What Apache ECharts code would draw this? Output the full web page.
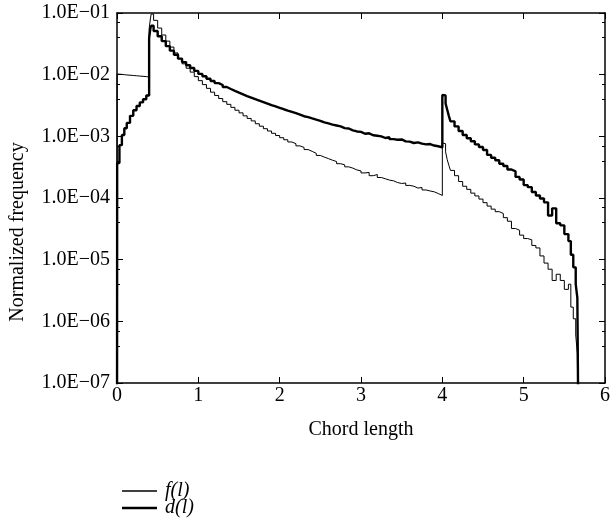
<!DOCTYPE html>
<html>
<head>
<meta charset="utf-8">
<script src="https://cdn.jsdelivr.net/npm/echarts@6/dist/echarts.min.js"></script>
<style>
  html, body { margin: 0; padding: 0; background: #fff; }
  #chart { width: 613px; height: 520px; }
</style>
</head>
<body>
<div id="chart"></div>
<script>
// bin left edges (chord length)
const chordLength = [
  0, 0.002, 0.03, 0.06, 0.09, 0.12, 0.16, 0.2, 0.24, 0.28, 0.32, 0.36, 0.395, 0.41, 0.42, 0.45,
  0.5, 0.55, 0.6, 0.65, 0.7, 0.75, 0.8, 0.85, 0.9, 0.95,
  1.0, 1.05, 1.1, 1.15, 1.2, 1.25, 1.3, 1.35, 1.4, 1.45, 1.5, 1.55, 1.6, 1.65, 1.7, 1.75, 1.8, 1.85, 1.9, 1.95,
  2.0, 2.05, 2.1, 2.15, 2.2, 2.25, 2.3, 2.35, 2.4, 2.45, 2.5, 2.55, 2.6, 2.65, 2.7, 2.75, 2.8, 2.85, 2.9, 2.95,
  3.0, 3.05, 3.1, 3.15, 3.2, 3.25, 3.3, 3.35, 3.4, 3.45, 3.5, 3.55, 3.6, 3.65, 3.7, 3.75, 3.8, 3.85, 3.9, 3.95,
  4.0, 4.02, 4.04, 4.06, 4.08,
  4.1, 4.15, 4.2, 4.25, 4.3, 4.35, 4.4, 4.45, 4.5, 4.55, 4.6, 4.65, 4.7, 4.75, 4.8, 4.85, 4.9, 4.95,
  5.0, 5.05, 5.1, 5.15, 5.2, 5.25, 5.3, 5.35, 5.4, 5.45, 5.5,
  5.55, 5.58, 5.61, 5.64, 5.66, 5.68
]

// f(l)
const fValues = [
  1e-9, 1.02e-2, 1.01e-2, 1.0e-2, 9.9e-3, 9.8e-3, 9.7e-3, 9.6e-3, 9.5e-3, 9.4e-3, 9.3e-3, 9.2e-3, 5.5e-2, 8.0e-2, 9.6e-2, 7.6e-2,
  5.7e-2, 4.4e-2, 3.5e-2, 2.8e-2, 2.25e-2, 1.82e-2, 1.5e-2, 1.27e-2, 1.1e-2, 9.3e-3,
  8.0e-3, 6.9e-3, 6.0e-3, 5.2e-3, 4.6e-3, 4.1e-3, 3.65e-3, 3.3e-3, 2.95e-3, 2.65e-3, 2.4e-3, 2.15e-3, 1.95e-3, 1.78e-3, 1.6e-3, 1.46e-3, 1.33e-3, 1.22e-3, 1.12e-3, 1.03e-3,
  9.5e-4, 8.8e-4, 8.1e-4, 7.6e-4, 7.0e-4, 6.6e-4, 6.1e-4, 5.7e-4, 5.3e-4, 4.9e-4, 4.6e-4, 4.35e-4, 4.1e-4, 3.9e-4, 3.6e-4, 3.45e-4, 3.2e-4, 3.05e-4, 2.85e-4, 2.75e-4,
  2.55e-4, 2.6e-4, 2.3e-4, 2.4e-4, 2.15e-4, 2.05e-4, 1.95e-4, 1.9e-4, 1.78e-4, 1.72e-4, 1.75e-4, 1.6e-4, 1.55e-4, 1.45e-4, 1.48e-4, 1.35e-4, 1.3e-4, 1.26e-4, 1.18e-4, 1.1e-4,
  7.8e-4, 7.6e-4, 5.6e-4, 4.2e-4, 3.4e-4,
  2.8e-4, 2.3e-4, 1.85e-4, 1.55e-4, 1.38e-4, 1.2e-4, 1.08e-4, 9.6e-5, 8.4e-5, 7.4e-5, 6.6e-5, 6.0e-5, 5.6e-5, 4.8e-5, 4.2e-5, 3.2e-5, 3.0e-5, 2.5e-5,
  2.2e-5, 2.1e-5, 1.7e-5, 1.55e-5, 1.15e-5, 8.8e-6, 7.0e-6, 4.6e-6, 5.8e-6, 4.6e-6, 3.3e-6,
  4.0e-6, 1.7e-6, 1.1e-6, 6.0e-7, 3.0e-7, 1e-9
]

// d(l)
const dValues = [
  1e-9, 3.7e-4, 7.2e-4, 1.05e-3, 1.35e-3, 1.65e-3, 2.15e-3, 2.65e-3, 3.1e-3, 3.55e-3, 4.0e-3, 4.6e-3, 3.9e-2, 5.6e-2, 6.2e-2, 5.1e-2,
  4.2e-2, 3.5e-2, 2.9e-2, 2.45e-2, 2.1e-2, 1.82e-2, 1.6e-2, 1.42e-2, 1.28e-2, 1.15e-2,
  1.03e-2, 9.4e-3, 8.6e-3, 7.9e-3, 7.3e-3, 6.8e-3, 6.3e-3, 5.85e-3, 5.45e-3, 5.1e-3, 4.8e-3, 4.5e-3, 4.25e-3, 4.0e-3, 3.8e-3, 3.6e-3, 3.4e-3, 3.2e-3, 3.05e-3, 2.9e-3,
  2.75e-3, 2.62e-3, 2.5e-3, 2.38e-3, 2.25e-3, 2.12e-3, 2.05e-3, 1.95e-3, 1.86e-3, 1.78e-3, 1.68e-3, 1.62e-3, 1.55e-3, 1.5e-3, 1.45e-3, 1.36e-3, 1.34e-3, 1.25e-3, 1.2e-3, 1.18e-3,
  1.1e-3, 1.12e-3, 1.04e-3, 1.02e-3, 1.0e-3, 9.4e-4, 9.7e-4, 9.0e-4, 8.8e-4, 8.9e-4, 8.3e-4, 8.2e-4, 7.8e-4, 8.0e-4, 7.6e-4, 7.4e-4, 7.5e-4, 7.1e-4, 6.9e-4, 6.6e-4,
  4.7e-3, 4.6e-3, 3.4e-3, 2.7e-3, 2.15e-3,
  1.75e-3, 1.45e-3, 1.22e-3, 1.05e-3, 9.3e-4, 8.3e-4, 7.4e-4, 6.7e-4, 6.0e-4, 5.0e-4, 4.5e-4, 4.1e-4, 3.6e-4, 3.3e-4, 2.9e-4, 2.7e-4, 2.2e-4, 2.0e-4,
  1.62e-4, 1.5e-4, 1.25e-4, 1.1e-4, 9.8e-5, 8.5e-5, 5.2e-5, 6.8e-5, 3.9e-5, 3.6e-5, 2.6e-5,
  2.0e-5, 1.2e-5, 7.5e-6, 4.0e-6, 2.4e-6, 1e-9
]

const xTicks = [0, 1, 2, 3, 4, 5, 6]
const seriesNames = ['f(l)', 'd(l)']

const chart = echarts.init(document.getElementById('chart'))
const serif = '"Liberation Serif", "DejaVu Serif", serif'

const pairs = (ys) => chordLength.map((x, i) => [x, ys[i]])

// label like 1.0E−03
const sciLabel = (v) => {
  const e = Math.round(Math.log10(v))
  return '1.0E\u2212' + String(-e).padStart(2, '0')
}

const axisLine = { show: true, onZero: false, lineStyle: { color: '#000', width: 1.5 } }
const tick = { show: true, inside: true, length: 6, lineStyle: { color: '#000', width: 1 } }

const yCommon = {
  type: 'log',
  logBase: 10,
  min: 1e-7,
  max: 1e-1,
  interval: 1,
  axisLine: axisLine,
  axisTick: tick,
  minorTick: { show: true, splitNumber: 3, length: 3, lineStyle: { color: '#000', width: 1 } },
  splitLine: { show: false },
  minorSplitLine: { show: false },
}

// one legend per entry so they stack
const legendEntry = (name, icon, top) => ({
  left: 117,
  top: top,
  itemWidth: 35,
  itemHeight: 14,
  symbolKeepAspect: true,
  itemStyle: { borderWidth: 0 },
  data: [{ name: name, icon: icon }],
  textStyle: { fontFamily: serif, fontSize: 20, fontStyle: 'italic', color: '#000', padding: [0, 0, 0, 3] },
})

const option = {
  animation: false,
  backgroundColor: '#fff',
  grid: { left: 117, top: 13, width: 491, height: 370 },
  legend: [
    legendEntry(seriesNames[0], 'path://M0,0L35,0L35,1.3L0,1.3Z', 476),
    legendEntry(seriesNames[1], 'path://M0,0L35,0L35,2.5L0,2.5Z', 493),
  ],
  xAxis: [
    {
      type: 'value',
      min: xTicks[0],
      max: xTicks[xTicks.length - 1],
      interval: 1,
      position: 'bottom',
      name: 'Chord length',
      nameLocation: 'middle',
      nameGap: 37,
      nameTextStyle: { fontFamily: serif, fontSize: 20, color: '#000' },
      axisLine: axisLine,
      axisTick: tick,
      axisLabel: { fontFamily: serif, fontSize: 20, color: '#000', margin: 3 },
      splitLine: { show: false },
    },
    {
      type: 'value',
      min: xTicks[0],
      max: xTicks[xTicks.length - 1],
      interval: 1,
      position: 'top',
      axisLine: axisLine,
      axisTick: tick,
      axisLabel: { show: false },
      splitLine: { show: false },
    },
  ],
  yAxis: [
    Object.assign({}, yCommon, {
      position: 'left',
      axisLabel: { formatter: sciLabel, fontFamily: serif, fontSize: 20, color: '#000', margin: 7 },
    }),
    Object.assign({}, yCommon, {
      position: 'right',
      axisLabel: { show: false },
    }),
  ],
  graphic: [
    {
      type: 'text',
      x: 18,
      y: 232,
      rotation: Math.PI / 2,
      style: {
        text: 'Normalized frequency',
        font: '20px ' + serif,
        fill: '#000',
        align: 'center',
        verticalAlign: 'middle',
        textAlign: 'center',
        textVerticalAlign: 'middle',
      },
    },
  ],
  series: [
    {
      name: seriesNames[0],
      type: 'line',
      step: 'end',
      symbol: 'none',
      clip: true,
      data: pairs(fValues),
      lineStyle: { color: '#000', width: 1 },
      itemStyle: { color: '#000' },
      z: 3,
    },
    {
      name: seriesNames[1],
      type: 'line',
      step: 'end',
      symbol: 'none',
      clip: true,
      data: pairs(dValues),
      lineStyle: { color: '#000', width: 2.4 },
      itemStyle: { color: '#000' },
      z: 2,
    },
  ],
}

chart.setOption(option)
</script>
</body>
</html>
